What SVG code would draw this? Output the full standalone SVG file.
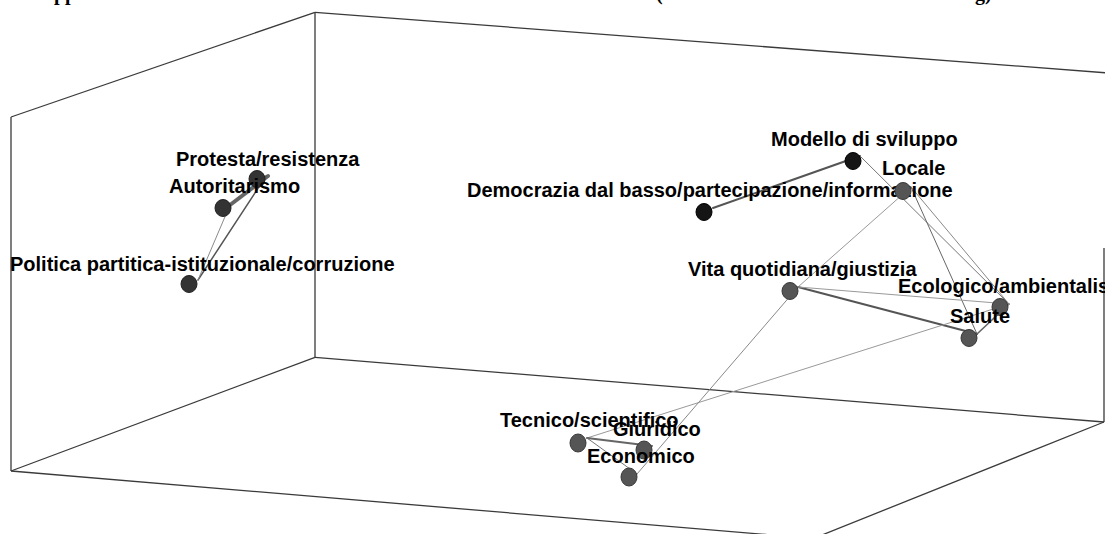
<svg xmlns="http://www.w3.org/2000/svg" width="1105" height="534" viewBox="0 0 1105 534">
  <style>
    .box { fill: none; stroke: #3a3a3a; stroke-width: 1.3; }
    .edge { fill: none; stroke-linecap: round; }
    .lbl { font-family: "Liberation Sans", Arial, sans-serif; font-weight: bold; font-size: 20px; fill: #000; }
    .ttl { font-family: "Liberation Serif", "Times New Roman", serif; font-weight: bold; font-size: 20px; fill: #000; }
    .n-dark { fill: #333; stroke: #222; stroke-width: 1; }
    .n-black { fill: #151515; stroke: #000; stroke-width: 1; }
    .n-grey { fill: #555; stroke: #383838; stroke-width: 1; }
  </style>
  <rect x="0" y="0" width="1105" height="534" fill="#fff"/>

  <!-- title line, mostly above the top edge -->
  <g id="title">
    <text class="ttl" x="54" y="0">pp</text>
    <text class="ttl" x="656" y="0">(</text>
    <text class="ttl" x="975" y="0">g)</text>
  </g>

  <!-- bounding box of the 3D plot -->
  <g id="frame">
    <line class="box" x1="11" y1="117" x2="315" y2="12.3"/>
    <line class="box" x1="315" y1="12.3" x2="1106" y2="72.8"/>
    <line class="box" x1="315" y1="12.3" x2="315" y2="357.3"/>
    <line class="box" x1="11" y1="117" x2="11" y2="471"/>
    <line class="box" x1="11" y1="471" x2="315" y2="357.3"/>
    <line class="box" x1="315" y1="357.3" x2="1104" y2="422"/>
    <line class="box" x1="11" y1="471" x2="772" y2="535"/>
    <line class="box" x1="1104" y1="422" x2="822" y2="535"/>
    <line class="box" x1="1104" y1="248" x2="1104" y2="422"/>
  </g>

  <!-- connectors -->
  <g id="connectors">
    <line class="edge" x1="230" y1="205" x2="268" y2="176" stroke="#666" stroke-width="4"/>
    <line class="edge" x1="266" y1="176" x2="198" y2="280" stroke="#555" stroke-width="1.5"/>
    <line class="edge" x1="230" y1="205" x2="198" y2="280" stroke="#8a8a8a" stroke-width="1"/>

    <line class="edge" x1="713" y1="208" x2="860" y2="156" stroke="#555" stroke-width="2"/>
    <line class="edge" x1="860" y1="156" x2="1009" y2="304" stroke="#777" stroke-width="1"/>
    <line class="edge" x1="911" y1="187" x2="1009" y2="304" stroke="#888" stroke-width="1"/>
    <line class="edge" x1="911" y1="187" x2="977" y2="334" stroke="#666" stroke-width="1"/>
    <line class="edge" x1="911" y1="187" x2="798" y2="287" stroke="#999" stroke-width="1"/>
    <line class="edge" x1="798" y1="287" x2="977" y2="334" stroke="#555" stroke-width="2"/>
    <line class="edge" x1="798" y1="287" x2="1009" y2="304" stroke="#999" stroke-width="1"/>
    <line class="edge" x1="977" y1="334" x2="1009" y2="304" stroke="#666" stroke-width="1.6"/>
    <line class="edge" x1="1009" y1="304" x2="587" y2="438" stroke="#999" stroke-width="1"/>
    <line class="edge" x1="798" y1="287" x2="637" y2="474" stroke="#888" stroke-width="1"/>

    <line class="edge" x1="587" y1="438" x2="652" y2="446" stroke="#666" stroke-width="2"/>
    <line class="edge" x1="587" y1="438" x2="637" y2="474" stroke="#777" stroke-width="1"/>
  </g>

  <!-- nodes -->
  <g id="node-protesta">
    <text class="lbl" x="176" y="166">Protesta/resistenza</text>
    <ellipse class="n-dark" cx="257" cy="179" rx="8" ry="8.5"/>
  </g>
  <g id="node-autoritarismo">
    <text class="lbl" x="169" y="193">Autoritarismo</text>
    <ellipse class="n-dark" cx="223" cy="208" rx="8" ry="8.5"/>
  </g>
  <g id="node-politica">
    <text class="lbl" x="10" y="271">Politica partitica-istituzionale/corruzione</text>
    <ellipse class="n-dark" cx="189" cy="284" rx="8" ry="8.5"/>
  </g>

  <g id="node-modello">
    <text class="lbl" x="771" y="146">Modello di sviluppo</text>
    <ellipse class="n-black" cx="853" cy="161" rx="8" ry="8.5"/>
  </g>
  <g id="node-democrazia">
    <text class="lbl" x="467" y="197">Democrazia dal basso/partecipazione/informazione</text>
    <ellipse class="n-black" cx="704" cy="212" rx="8" ry="8.5"/>
  </g>
  <g id="node-locale">
    <text class="lbl" x="882" y="175">Locale</text>
    <ellipse class="n-grey" cx="903" cy="191" rx="8" ry="8.5"/>
  </g>
  <g id="node-vita">
    <text class="lbl" x="688" y="276">Vita quotidiana/giustizia</text>
    <ellipse class="n-grey" cx="790" cy="291" rx="8" ry="8.5"/>
  </g>
  <g id="node-ecologico">
    <text class="lbl" x="898" y="293">Ecologico/ambientalis</text>
    <ellipse class="n-grey" cx="1000" cy="307" rx="8" ry="8.5"/>
  </g>
  <g id="node-salute">
    <text class="lbl" x="950" y="323">Salute</text>
    <ellipse class="n-grey" cx="969" cy="338" rx="8" ry="8.5"/>
  </g>

  <g id="node-tecnico">
    <text class="lbl" x="500" y="427">Tecnico/scientifico</text>
    <ellipse class="n-grey" cx="578" cy="443" rx="8" ry="9"/>
  </g>
  <g id="node-giuridico">
    <text class="lbl" x="613" y="436">Giuridico</text>
    <ellipse class="n-grey" cx="644" cy="450" rx="8" ry="9"/>
  </g>
  <g id="node-economico">
    <text class="lbl" x="587" y="463">Economico</text>
    <ellipse class="n-grey" cx="629" cy="477" rx="8" ry="9"/>
  </g>
</svg>
